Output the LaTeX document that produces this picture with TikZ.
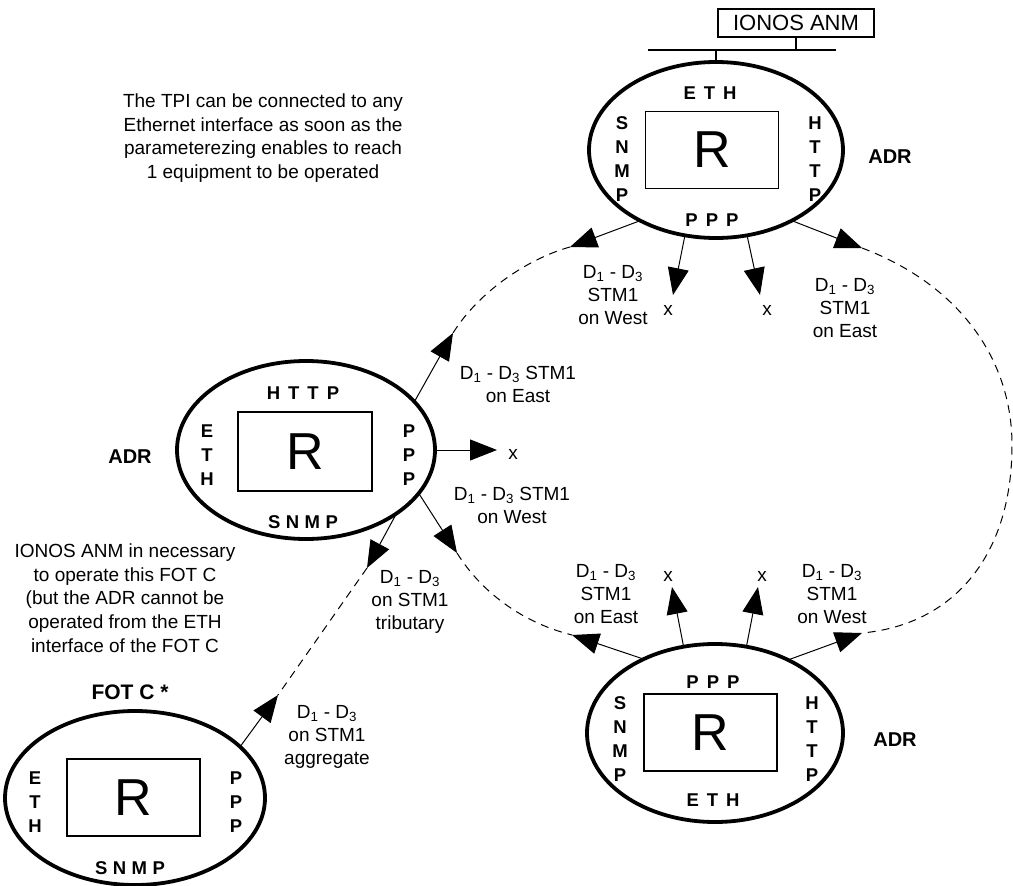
\documentclass[tikz,border=0pt]{standalone}
\usepackage{fontspec}
\setmainfont{Liberation Sans}
\usetikzlibrary{shapes.geometric,arrows.meta}
\newcommand{\Dlab}{D\textsubscript{1} - D\textsubscript{3}}
\newcommand{\lgap}{\hspace{8pt}}
\newcommand{\sgap}{\hspace{5.5pt}}
\begin{document}
\begin{tikzpicture}[x=1pt,y=-1pt,
  dev/.style={draw, ellipse, line width=3.8pt, inner sep=0pt, outer sep=0pt},
  rbox/.style={draw, line width=1.2pt, minimum width=133pt, minimum height=77pt, inner sep=0pt, font=\fontsize{52}{52}\selectfont},
  lbl/.style={font=\fontsize{19}{23}\selectfont, align=center, inner sep=0pt},
  note/.style={font=\fontsize{19}{23.7}\selectfont, align=center, inner sep=0pt},
  bl/.style={font=\fontsize{18.5}{24}\selectfont\bfseries, align=center, inner sep=0pt},
  adr/.style={font=\fontsize{20}{24}\selectfont\bfseries, inner sep=0pt},
  link/.style={line width=1pt, -{Triangle[length=27pt,width=21pt]}},
  ring/.style={line width=1pt, dash pattern=on 8pt off 6pt},
  bus/.style={line width=2pt},
]
\useasboundingbox (0,0) rectangle (1013,886);

% IONOS ANM and bus
\node[draw, line width=1.2pt, minimum width=156pt, minimum height=28pt, inner sep=0pt, font=\fontsize{22}{26}\selectfont] (anm) at (796,23) {IONOS ANM};
\coordinate (busL) at (648,50);
\coordinate (busR) at (836,50);
\draw[bus] (busL) -- (busR);

% top ADR
\node[dev, minimum width=254pt, minimum height=176pt] (T) at (716,150) {};
\node[rbox] (TR) at (712,150) {R};
\node[bl] (Teth) at (710,93) {E\lgap T\lgap H};
\node[bl] (Tsnmp) at (622,159) {S\\N\\M\\P};
\node[bl] (Thttp) at (815,159) {H\\T\\T\\P};
\node[bl] (Tppp) at (712,220) {P\lgap P\lgap P};
\node[adr] (Tadr) at (890,157) {ADR};
\draw[bus] (anm.south) -- (anm.south |- busL);
\draw[bus] (T.north) -- (T.north |- busL);

% left ADR
\node[dev, minimum width=258pt, minimum height=178pt] (L) at (306,450) {};
\node[rbox, minimum width=134pt, minimum height=79pt] (LR) at (305,451.5) {R};
\node[bl] (Lhttp) at (303,393) {H\lgap T\lgap T\lgap P};
\node[bl] (Leth) at (207,455) {E\\T\\H};
\node[bl] (Lppp) at (409,455) {P\\P\\P};
\node[bl] (Lsnmp) at (303,522) {S\sgap N\sgap M\sgap P};
\node[adr] (Ladr) at (130,457) {ADR};

% bottom-right ADR
\node[dev, minimum width=256pt, minimum height=178pt] (B) at (715,733) {};
\node[rbox] (BR) at (710.5,732.5) {R};
\node[bl] (Bppp) at (713,682) {P\lgap P\lgap P};
\node[bl] (Bsnmp) at (620,739) {S\\N\\M\\P};
\node[bl] (Bhttp) at (812,739) {H\\T\\T\\P};
\node[bl] (Beth) at (713,800) {E\lgap T\lgap H};
\node[adr] (Badr) at (895,740) {ADR};

% FOT C
\node[dev, minimum width=260pt, minimum height=174pt] (F) at (135,798) {};
\node[rbox] (FR) at (133.5,797.5) {R};
\node[bl] (Feth) at (35,802) {E\\T\\H};
\node[bl] (Fppp) at (236,802) {P\\P\\P};
\node[bl] (Fsnmp) at (130,868) {S\sgap N\sgap M\sgap P};
\node[font=\fontsize{21}{24}\selectfont\bfseries, inner sep=0pt] (Fname) at (130,692) {FOT C *};

% arrow tips
\coordinate (t1) at (570,247);
\coordinate (t2) at (862,248);
\coordinate (t3) at (673,295);
\coordinate (t4) at (760,295);
\coordinate (l1) at (453,333);
\coordinate (l2) at (457,553);
\coordinate (l3) at (497,450);
\coordinate (l4) at (367,568);
\coordinate (b1) at (572,635);
\coordinate (b2) at (672,587);
\coordinate (b3) at (758,587);
\coordinate (b4) at (862,633);
\coordinate (f1) at (278,695);

\draw[link] (T.-137) -- (t1);
\draw[link] (T.-43.5) -- (t2);
\draw[link] (T.-110) -- (t3);
\draw[link] (T.-70.6) -- (t4);
\draw[link] (L.24.5) -- (l1);
\draw[link] (L.0) -- (l3);
\draw[link] (L.-21.2) -- (l2);
\draw[link] (L.-35.9) -- (l4);
\draw[link] (B.134.6) -- (b1);
\draw[link] (B.110) -- (b2);
\draw[link] (B.70) -- (b3);
\draw[link] (B.45) -- (b4);
\draw[link] (F.26) -- (f1);

% dashed ring
\draw[ring] (t1) .. controls (530,258) and (480,290) .. (l1);
\draw[ring] (t2) .. controls (960,285) and (1012,360) .. (1012,445) .. controls (1012,560) and (950,625) .. (b4);
\draw[ring] (l2) .. controls (480,590) and (520,622) .. (b1);
\draw[ring] (l4) -- (f1);

% x ends
\node[lbl] (x1) at (668,310) {x};
\node[lbl] (x2) at (767,310) {x};
\node[lbl] (x3) at (513,454) {x};
\node[lbl] (x4) at (668,576) {x};
\node[lbl] (x5) at (762,576) {x};

% link labels
\node[lbl] (a1) at (613,295) {\Dlab\\STM1\\on West};
\node[lbl] (a2) at (845,308) {\Dlab\\STM1\\on East};
\node[lbl] (a3) at (518,384) {\Dlab{} STM1\\on East};
\node[lbl] (a4) at (512,505) {\Dlab{} STM1\\on West};
\node[lbl] (a5) at (410,602) {\Dlab\\on STM1\\tributary};
\node[lbl] (a6) at (606,594) {\Dlab\\STM1\\on East};
\node[lbl] (a7) at (832,594) {\Dlab\\STM1\\on West};
\node[lbl] (a8) at (327,737) {\Dlab\\on STM1\\aggregate};

% notes
\node[note] (n1) at (263,138) {The TPI can be connected to any\\Ethernet interface as soon as the\\parameterezing enables to reach\\1 equipment to be operated};
\node[note] (n2) at (125,598) {IONOS ANM in necessary\\to operate this FOT C\\(but the ADR cannot be\\operated from the ETH\\interface of the FOT C};
\end{tikzpicture}
\end{document}
